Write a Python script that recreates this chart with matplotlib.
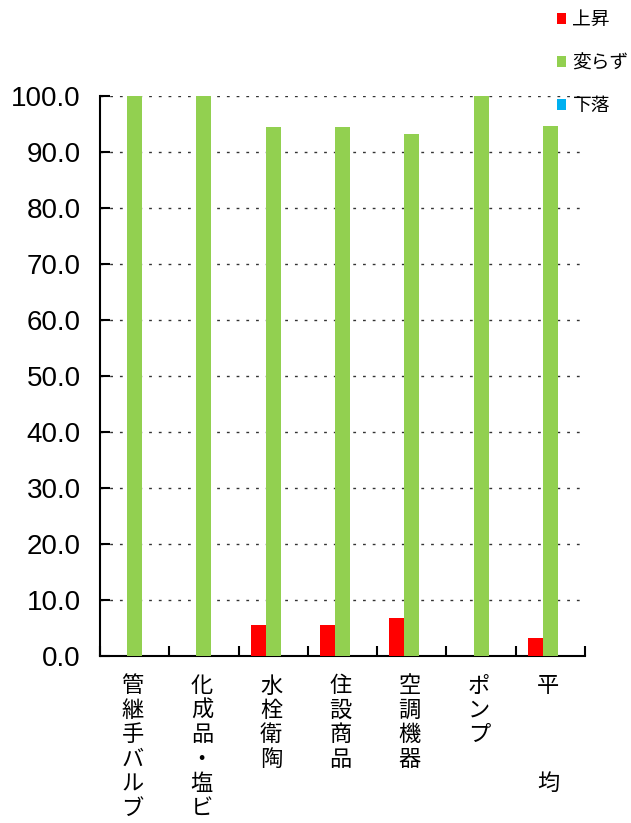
import matplotlib
matplotlib.use("Agg")
import matplotlib.pyplot as plt
import matplotlib.transforms as mtransforms
import numpy as np

plt.rcParams["font.family"] = ["Liberation Sans", "Noto Sans CJK JP", "DejaVu Sans"]

# data
categories = ["管継手バルブ", "化成品・塩ビ", "水栓衛陶", "住設商品", "空調機器", "ポンプ", "平\u3000\u3000\u3000均"]
series_names = ["上昇", "変らず", "下落"]
rise = [0.0, 0.0, 5.6, 5.6, 6.7, 0.0, 3.2]
same = [100.0, 100.0, 94.4, 94.4, 93.3, 100.0, 94.6]
fall = [0.0, 0.0, 0.0, 0.0, 0.0, 0.0, 0.0]
colors = ["#FF0000", "#92D050", "#00B0F0"]
y_ticks = np.arange(0, 101, 10)

fig = plt.figure(figsize=(6.31, 8.23), dpi=100)
ax = fig.add_axes([0.1585, 0.2029, 0.7686, 0.6804])

x = np.arange(len(categories))
w = 0.216
handles = []
for i, (vals, name, col) in enumerate(zip([rise, same, fall], series_names, colors)):
    h = ax.bar(x + (i - 1) * w, vals, width=w, color=col, label=name, zorder=3)
    handles.append(h)

ax.set_xlim(-0.5, len(categories) - 0.5)
ax.set_ylim(0, 100)
ax.set_yticks(y_ticks)
ax.set_yticklabels([f"{v:.1f}" for v in y_ticks], fontsize=20)
ax.set_xticks(np.arange(-0.5, len(categories), 1.0))
ax.set_xticklabels([])
ax.tick_params(axis="both", direction="in", length=7, width=1.5, colors="black")
ax.tick_params(axis="y", pad=14)

for v in y_ticks[1:]:
    ax.axhline(v, color="#333333", linestyle=(0, (2, 5)), linewidth=1.0, zorder=1)

for s in ["top", "right"]:
    ax.spines[s].set_visible(False)
ax.spines["left"].set_linewidth(1.5)
ax.spines["bottom"].set_linewidth(1.5)

# vertical (stacked) category labels
trans = mtransforms.blended_transform_factory(ax.transData, ax.transAxes)
for xi, cat in zip(x, categories):
    label = "\n".join(list(cat)).replace("\u3000", "")
    ax.text(xi - 0.03, -0.033, label, transform=trans, ha="center", va="top",
            fontsize=16, linespacing=1.08, family=["Noto Sans CJK JP", "DejaVu Sans"])

fig.legend(handles=handles, labels=series_names, loc="upper left",
           bbox_to_anchor=(0.882, 0.989), frameon=False, borderpad=0,
           borderaxespad=0, handlelength=0.5, handleheight=0.5,
           handletextpad=0.35, labelspacing=1.18,
           prop={"family": "Noto Sans CJK JP", "size": 13.5})

fig.savefig("out.png", dpi=100)
